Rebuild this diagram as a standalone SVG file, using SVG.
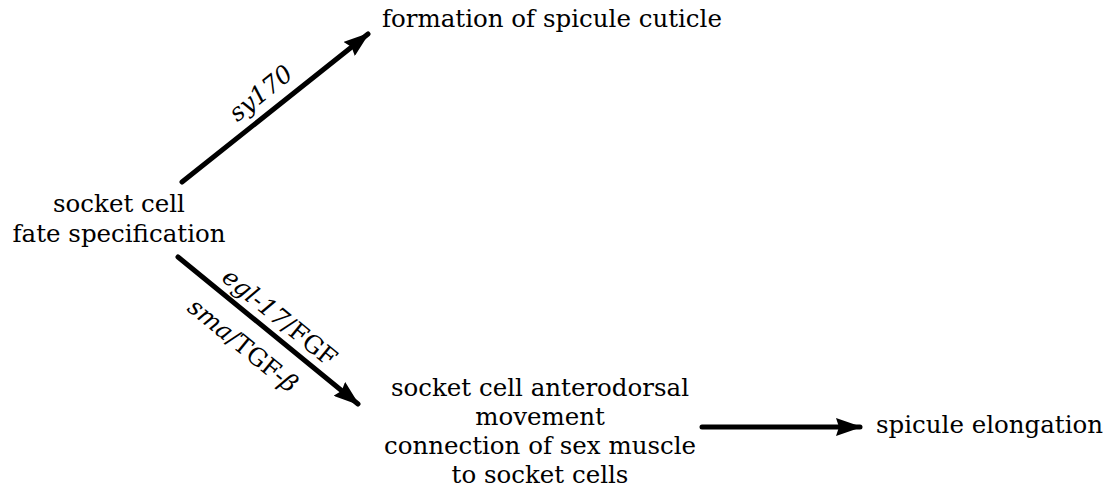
<svg xmlns="http://www.w3.org/2000/svg" width="1112" height="494" viewBox="0 0 1112 494">
<style>
text{font-family:"DejaVu Serif","Liberation Serif",serif;font-size:24.5px;fill:#000}
.c{text-anchor:middle}
.i{font-style:italic}
.ln{stroke:#000;stroke-width:5;stroke-linecap:round;fill:none}
</style>
<defs>
<marker id="ah" viewBox="0 0 26 18" refX="24" refY="9" markerWidth="26" markerHeight="18" markerUnits="userSpaceOnUse" orient="auto">
<path d="M0,0 L26,9 L0,18 L3,9 z" fill="#000"/>
</marker>
</defs>
<rect width="1112" height="494" fill="#fff"/>
<g id="connectors">
<line class="ln" x1="182" y1="182" x2="368" y2="34" marker-end="url(#ah)"/>
<line class="ln" x1="178" y1="257" x2="358" y2="404" marker-end="url(#ah)"/>
<line class="ln" x1="702" y1="427" x2="860" y2="427" stroke-linecap="butt" marker-end="url(#ah)"/>
<text class="c i" transform="translate(182,182) rotate(-38.6)" x="117" y="-12">sy170</text>
<text class="c" transform="translate(178,257) rotate(39.1)" x="117" y="-9"><tspan class="i">egl-17</tspan>/FGF</text>
<text class="c" transform="translate(178,257) rotate(39.1)" x="106" y="36"><tspan class="i">sma</tspan>/TGF-<tspan class="i">β</tspan></text>
</g>
<g id="node-socket-fate">
<text class="c" x="119" y="212">socket cell</text>
<text class="c" x="119" y="242">fate specification</text>
</g>
<g id="node-cuticle">
<text x="382" y="27">formation of spicule cuticle</text>
</g>
<g id="node-movement">
<text class="c" x="540" y="396">socket cell anterodorsal</text>
<text class="c" x="540" y="425">movement</text>
<text class="c" x="540" y="454">connection of sex muscle</text>
<text class="c" x="540" y="483">to socket cells</text>
</g>
<g id="node-elongation">
<text x="876" y="433">spicule elongation</text>
</g>
</svg>
